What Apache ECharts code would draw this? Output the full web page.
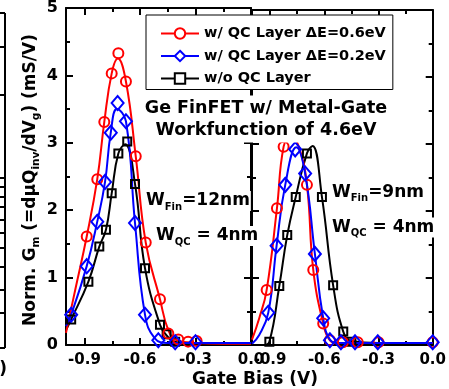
<!DOCTYPE html>
<html><head><meta charset="utf-8">
<script src="https://cdn.jsdelivr.net/npm/echarts@6/dist/echarts.min.js"></script>
<style>html,body{margin:0;padding:0;background:#fff}#c{width:449px;height:389px}</style>
</head><body><div id="c"></div>
<script>
// ---------------- data ----------------
const seriesNames = ['w/ QC Layer \u0394E=0.6eV', 'w/ QC Layer \u0394E=0.2eV', 'w/o QC Layer'];
const xTickValues = [-0.9, -0.6, -0.3, 0.0];
const xMinorValues = [-0.75, -0.45, -0.15];
const yTickValues = [0, 1, 2, 3, 4, 5];

// W_Fin = 12nm panel (left)
const fin12RedMarkV = [-0.888, -0.831, -0.793, -0.753, -0.717, -0.676, -0.623, -0.569, -0.492, -0.447, -0.393, -0.340, -0.294];
const fin12RedMarkG = [1.61, 2.46, 3.31, 4.03, 4.33, 3.91, 2.80, 1.52, 0.68, 0.17, 0.08, 0.05, 0.06];
const fin12RedLineV = [-1.0, -0.95, -0.888, -0.831, -0.793, -0.753, -0.72, -0.676, -0.623, -0.569, -0.492, -0.447, -0.40, -0.30, -0.15, 0.0];
const fin12RedLineG = [0.18, 0.82, 1.61, 2.46, 3.31, 4.03, 4.25, 3.91, 2.80, 1.52, 0.68, 0.22, 0.07, 0.03, 0.02, 0.02];

const fin12BlueMarkV = [-0.972, -0.888, -0.831, -0.789, -0.758, -0.721, -0.676, -0.627, -0.573, -0.501, -0.41, -0.30];
const fin12BlueMarkG = [0.45, 1.17, 1.83, 2.42, 3.15, 3.59, 3.32, 1.81, 0.45, 0.07, 0.04, 0.04];
const fin12BlueLineV = [-1.0, -0.972, -0.888, -0.831, -0.789, -0.758, -0.725, -0.676, -0.627, -0.573, -0.52, -0.45, -0.30, 0.0];
const fin12BlueLineG = [0.28, 0.45, 1.17, 1.83, 2.42, 3.15, 3.50, 3.32, 1.81, 0.45, 0.10, 0.03, 0.03, 0.03];

const fin12BlackMarkV = [-0.972, -0.879, -0.820, -0.784, -0.753, -0.717, -0.669, -0.627, -0.573, -0.492, -0.456, -0.41];
const fin12BlackMarkG = [0.38, 0.94, 1.46, 1.71, 2.25, 2.84, 3.02, 2.39, 1.14, 0.30, 0.16, 0.05];
const fin12BlackLineV = [-1.0, -0.972, -0.879, -0.820, -0.784, -0.753, -0.717, -0.680, -0.627, -0.573, -0.492, -0.456, -0.40, -0.30, 0.0];
const fin12BlackLineG = [0.22, 0.38, 0.94, 1.46, 1.71, 2.25, 2.84, 2.98, 2.39, 1.14, 0.30, 0.14, 0.04, 0.03, 0.03];

// W_Fin = 9nm panel (right)
const fin9RedMarkV = [-0.919, -0.862, -0.825, -0.696, -0.661, -0.606, -0.569, -0.497, -0.415, -0.30, 0.0];
const fin9RedMarkG = [0.82, 2.04, 2.96, 2.39, 1.12, 0.32, 0.07, 0.04, 0.04, 0.04, 0.04];
const fin9RedLineV = [-1.0, -0.96, -0.919, -0.862, -0.825, -0.785, -0.74, -0.696, -0.661, -0.606, -0.569, -0.52, -0.40, -0.20, 0.0];
const fin9RedLineG = [0.08, 0.40, 0.82, 2.04, 2.96, 3.12, 2.95, 2.39, 1.12, 0.32, 0.07, 0.03, 0.03, 0.03, 0.03];

const fin9BlueMarkV = [-0.91, -0.864, -0.816, -0.761, -0.706, -0.652, -0.606, -0.569, -0.508, -0.43, -0.304, 0.0];
const fin9BlueMarkG = [0.48, 1.48, 2.39, 2.92, 2.56, 1.36, 0.40, 0.07, 0.04, 0.04, 0.04, 0.04];
const fin9BlueLineV = [-1.0, -0.96, -0.91, -0.864, -0.816, -0.755, -0.706, -0.652, -0.606, -0.569, -0.52, -0.40, -0.20, 0.0];
const fin9BlueLineG = [0.02, 0.15, 0.48, 1.48, 2.39, 2.95, 2.56, 1.36, 0.40, 0.08, 0.03, 0.03, 0.03, 0.03];

const fin9BlackMarkV = [-0.904, -0.849, -0.805, -0.758, -0.696, -0.613, -0.551, -0.495, -0.45];
const fin9BlackMarkG = [0.05, 0.88, 1.64, 2.21, 2.86, 2.21, 0.89, 0.20, 0.05];
const fin9BlackLineV = [-1.0, -0.94, -0.904, -0.849, -0.805, -0.758, -0.696, -0.665, -0.613, -0.551, -0.495, -0.45, -0.30, 0.0];
const fin9BlackLineG = [0.0, 0.0, 0.05, 0.88, 1.64, 2.21, 2.86, 2.97, 2.21, 0.89, 0.20, 0.06, 0.03, 0.03];

// ---------------- chart ----------------
const FONT = '"DejaVu Sans", "Liberation Sans", Arial, sans-serif';
const zip = (a, b) => a.map((v, i) => [v, b[i]]);
const RED = '#ff0000', BLUE = '#0000ff', BLACK = '#000000';

function xAx(grid, pos, vals, len, showLabel, showLine) {
  return {
    type: 'value', gridIndex: grid, position: pos, min: -1, max: 0,
    axisLine: { show: showLine, onZero: false, lineStyle: { color: '#000', width: 2 } },
    axisTick: { show: true, inside: true, length: len, customValues: vals, lineStyle: { color: '#000', width: 2 } },
    axisLabel: { show: showLabel, customValues: vals, formatter: v => v.toFixed(1), margin: 8,
      color: '#000', fontFamily: FONT, fontWeight: 'bold', fontSize: 15 },
    splitLine: { show: false }, minorTick: { show: false }
  };
}
function yAx(grid, pos, showLabel) {
  return {
    type: 'value', gridIndex: grid, position: pos, min: 0, max: 5, interval: 1,
    axisLine: { show: true, onZero: false, lineStyle: { color: '#000', width: 2 } },
    axisTick: { show: true, inside: true, length: 7, lineStyle: { color: '#000', width: 2 } },
    minorTick: { show: true, splitNumber: 2, length: 4, lineStyle: { color: '#000', width: 2 } },
    axisLabel: { show: showLabel, margin: 8, color: '#000', fontFamily: FONT, fontWeight: 'bold', fontSize: 16,
      formatter: v => (yTickValues.indexOf(v) >= 0 ? String(v) : '') },
    splitLine: { show: false }
  };
}

function lineSeries(name, xi, yi, V, G, color, sym) {
  return { type: 'line', name: name, xAxisIndex: xi, yAxisIndex: yi, data: zip(V, G),
    smooth: 0.45, showSymbol: false, symbol: sym, symbolSize: 10,
    lineStyle: { color: color, width: 2 }, itemStyle: { color: color }, clip: true, silent: true, z: 2 };
}
function markSeries(xi, yi, V, G, color, sym, size) {
  return { type: 'scatter', name: 'm_' + color + sym + xi, xAxisIndex: xi, yAxisIndex: yi, data: zip(V, G),
    symbol: sym, symbolSize: size, clip: false, silent: true, z: 3,
    itemStyle: { color: 'rgba(0,0,0,0)', borderColor: color, borderWidth: 2, opacity: 1 } };
}

const series = [
  lineSeries(seriesNames[2], 0, 0, fin12BlackLineV, fin12BlackLineG, BLACK, 'emptyRect'),
  lineSeries(seriesNames[0], 0, 0, fin12RedLineV, fin12RedLineG, RED, 'emptyCircle'),
  lineSeries(seriesNames[1], 0, 0, fin12BlueLineV, fin12BlueLineG, BLUE, 'emptyDiamond'),
  markSeries(0, 0, fin12BlackMarkV, fin12BlackMarkG, BLACK, 'rect', 8),
  markSeries(0, 0, fin12RedMarkV, fin12RedMarkG, RED, 'circle', 10),
  markSeries(0, 0, fin12BlueMarkV, fin12BlueMarkG, BLUE, 'diamond', [12, 14]),
  lineSeries(seriesNames[2], 4, 2, fin9BlackLineV, fin9BlackLineG, BLACK, 'emptyRect'),
  lineSeries(seriesNames[0], 4, 2, fin9RedLineV, fin9RedLineG, RED, 'emptyCircle'),
  lineSeries(seriesNames[1], 4, 2, fin9BlueLineV, fin9BlueLineG, BLUE, 'emptyDiamond'),
  markSeries(4, 2, fin9BlackMarkV, fin9BlackMarkG, BLACK, 'rect', 8),
  markSeries(4, 2, fin9RedMarkV, fin9RedMarkG, RED, 'circle', 10),
  markSeries(4, 2, fin9BlueMarkV, fin9BlueMarkG, BLUE, 'diamond', [12, 14])
];

// decoration of the neighbouring (cropped) panel on the far left
const leftStripTicks = [47, 95, 178, 187, 197, 207, 220, 233, 248, 267, 290, 313];
const stripEls = [
  { type: 'line', shape: { x1: 5, y1: 13, x2: 5, y2: 348 }, style: { stroke: '#000', lineWidth: 2 } },
  { type: 'line', shape: { x1: 0, y1: 13, x2: 5, y2: 13 }, style: { stroke: '#000', lineWidth: 2 } },
  { type: 'line', shape: { x1: 0, y1: 348, x2: 5, y2: 348 }, style: { stroke: '#000', lineWidth: 2 } }
].concat(leftStripTicks.map(y => ({ type: 'line', shape: { x1: 0, y1: y, x2: 5, y2: y }, style: { stroke: '#000', lineWidth: 2 } })));

function wLabel(x, y, sub, rest) {
  return { type: 'text', x: x, y: y, z: 100,
    style: { text: '{a|W}{b|' + sub + '}{a|' + rest + '}', align: 'left', verticalAlign: 'middle',
      backgroundColor: '#fff', padding: [0, 1, 0, 1],
      rich: {
        a: { fontFamily: FONT, fontWeight: 'bold', fontSize: 17, lineHeight: 20, fill: '#000' },
        b: { fontFamily: FONT, fontWeight: 'bold', fontSize: 10, lineHeight: 20, padding: [12, 0, 0, 0], fill: '#000' }
      } } };
}

const chart = echarts.init(document.getElementById('c'), null, { renderer: 'canvas' });
chart.setOption({
  animation: false,
  backgroundColor: '#fff',
  grid: [
    { left: 66, top: 8, width: 185, height: 337 },
    { left: 252, top: 10, width: 181, height: 335 }
  ],
  xAxis: [
    xAx(0, 'bottom', xTickValues, 7, true, true),
    xAx(0, 'bottom', xMinorValues, 4, false, false),
    xAx(0, 'top', xTickValues, 7, false, true),
    xAx(0, 'top', xMinorValues, 4, false, false),
    xAx(1, 'bottom', xTickValues, 7, true, true),
    xAx(1, 'bottom', xMinorValues, 4, false, false),
    xAx(1, 'top', xTickValues, 7, false, true),
    xAx(1, 'top', xMinorValues, 4, false, false)
  ],
  yAxis: [
    yAx(0, 'left', true),
    yAx(0, 'right', false),
    yAx(1, 'left', false),
    yAx(1, 'right', false)
  ],
  legend: {
    data: seriesNames, orient: 'vertical', left: 146, top: 15,
    itemWidth: 38, itemHeight: 13, itemGap: 7.5, padding: [11, 7, 3.5, 14],
    backgroundColor: '#fff', borderColor: '#000', borderWidth: 1, borderRadius: 0,
    selectedMode: false, z: 10,
    textStyle: { color: '#000', fontFamily: FONT, fontWeight: 'bold', fontSize: 14.5 }
  },
  series: series,
  graphic: { elements: stripEls.concat([
    { type: 'text', x: 266, y: 119, z: 100,
      style: { text: 'Ge FinFET w/ Metal-Gate\nWorkfunction of 4.6eV', fill: '#000',
        fontFamily: FONT, fontWeight: 'bold', fontSize: 17.5, lineHeight: 22,
        align: 'center', verticalAlign: 'middle', backgroundColor: '#fff', padding: [2, 2, 1, 2] } },
    wLabel(145, 201, 'Fin', '=12nm'),
    wLabel(155, 236, 'QC', ' = 4nm'),
    wLabel(331, 192.5, 'Fin', '=9nm'),
    wLabel(331, 227.5, 'QC', ' = 4nm'),
    { type: 'text', x: 31, y: 180, rotation: Math.PI / 2, z: 100,
      style: { text: '{a|Norm. G}{b|m}{a| (=d\u03bcQ}{b|inv}{a|/dV}{b|g}{a|) (mS/V)}',
        align: 'center', verticalAlign: 'middle',
        rich: {
          a: { fontFamily: FONT, fontWeight: 'bold', fontSize: 17, lineHeight: 20, fill: '#000' },
          b: { fontFamily: FONT, fontWeight: 'bold', fontSize: 10.5, lineHeight: 20, padding: [11, 0, 0, 0], fill: '#000' }
        } } },
    { type: 'text', x: 255, y: 380, z: 100,
      style: { text: 'Gate Bias (V)', fill: '#000', fontFamily: FONT, fontWeight: 'bold', fontSize: 17,
        align: 'center', verticalAlign: 'middle' } },
    { type: 'text', x: 7, y: 370, z: 100,
      style: { text: ')', fill: '#000', fontFamily: FONT, fontWeight: 'bold', fontSize: 17,
        align: 'right', verticalAlign: 'middle' } }
  ]) }
});
</script></body></html>
